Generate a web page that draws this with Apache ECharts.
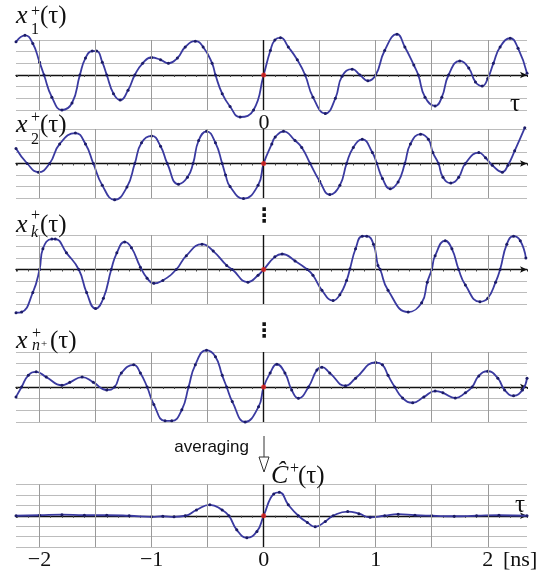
<!DOCTYPE html>
<html>
<head>
<meta charset="utf-8">
<script src="https://cdn.jsdelivr.net/npm/echarts@6/dist/echarts.min.js"></script>
<style>
html,body{margin:0;padding:0;background:#fff;}
#c{width:550px;height:571px;}
</style>
</head>
<body>
<div id="c"></div>
<script>
// ---- data (tau in ns, amplitude in grid units) ----
const x1Points = [[-2.21,2.85],[-2.13,3.4],[-2.06,2.7],[-2.0,1.1],[-1.96,0],[-1.89,-1.9],[-1.80,-3.0],[-1.71,-2.4],[-1.64,0],[-1.59,1.45],[-1.53,2.05],[-1.49,2.05],[-1.44,1.1],[-1.40,0],[-1.34,-1.6],[-1.28,-2.15],[-1.21,-1.3],[-1.15,0],[-1.08,1.0],[-1.0,1.5],[-0.92,1.3],[-0.85,1.0],[-0.77,1.45],[-0.70,2.4],[-0.61,2.9],[-0.54,2.4],[-0.46,1.0],[-0.43,0],[-0.37,-1.6],[-0.30,-2.7],[-0.21,-3.6],[-0.09,-3.0],[0,0],[0.06,2.1],[0.10,3.0],[0.15,3.2],[0.22,2.4],[0.30,1.3],[0.37,0],[0.44,-1.9],[0.55,-3.3],[0.64,-2.0],[0.70,-0.1],[0.79,0.5],[0.86,0],[0.93,-0.5],[1.0,0],[1.08,2.1],[1.19,3.5],[1.26,2.4],[1.34,0.85],[1.38,0],[1.44,-1.9],[1.53,-2.65],[1.59,-1.9],[1.65,0],[1.75,1.2],[1.83,0.6],[1.89,-0.6],[1.95,-0.95],[2.00,-0.3],[2.05,1.0],[2.11,2.4],[2.20,3.15],[2.27,2.3],[2.35,0.15]];
const x2Points = [[-2.21,1.3],[-2.11,0],[-2.01,-0.75],[-1.91,0],[-1.82,1.7],[-1.68,2.65],[-1.59,1.7],[-1.52,0],[-1.44,-1.9],[-1.33,-3.15],[-1.22,-2.05],[-1.15,0],[-1.09,1.8],[-1.0,2.4],[-0.92,1.5],[-0.86,0],[-0.76,-1.8],[-0.68,-1.2],[-0.63,0],[-0.58,2.0],[-0.51,2.8],[-0.43,1.8],[-0.37,0],[-0.34,-1.0],[-0.30,-2.0],[-0.18,-3.05],[-0.05,-1.9],[0,0],[0.073,1.7],[0.103,2.3],[0.177,2.8],[0.28,2.0],[0.34,1.4],[0.415,0],[0.50,-1.55],[0.59,-2.7],[0.68,-1.9],[0.74,0],[0.80,1.4],[0.88,2.1],[0.97,0.95],[1.01,0],[1.06,-1.3],[1.13,-2.2],[1.20,-1.6],[1.26,0],[1.31,1.7],[1.40,2.55],[1.47,2.1],[1.51,0.95],[1.56,0],[1.60,-1.2],[1.67,-1.7],[1.74,-1.2],[1.80,0],[1.92,0.95],[1.98,0.5],[2.04,-0.15],[2.13,-0.75],[2.18,-0.15],[2.24,1.1],[2.33,3.1]];
const xkPoints = [[-2.21,-3.75],[-2.16,-3.7],[-2.06,-2.0],[-2.0,0],[-1.97,1.8],[-1.89,2.65],[-1.86,2.65],[-1.76,1.45],[-1.65,0],[-1.58,-2.0],[-1.50,-3.4],[-1.43,-2.5],[-1.36,0],[-1.31,1.45],[-1.24,2.4],[-1.18,1.9],[-1.10,0.2],[-1.04,-0.75],[-0.98,-1.2],[-0.90,-0.95],[-0.78,0],[-0.69,1.2],[-0.55,2.2],[-0.45,1.6],[-0.33,0.35],[-0.28,0],[-0.14,-1.1],[-0.05,-0.5],[0,0],[0.10,1.1],[0.165,1.35],[0.28,0.75],[0.39,0],[0.44,-0.5],[0.52,-1.8],[0.62,-2.7],[0.68,-2.2],[0.74,-0.95],[0.77,0.05],[0.82,1.8],[0.88,2.9],[0.92,2.9],[0.98,2.2],[1.02,0.35],[1.04,0],[1.11,-1.8],[1.29,-3.7],[1.41,-2.9],[1.46,-1.1],[1.50,0],[1.53,1.2],[1.62,2.5],[1.68,1.8],[1.74,0],[1.80,-1.35],[1.93,-2.8],[2.00,-2.5],[2.07,-1.1],[2.11,0],[2.17,2.2],[2.23,2.9],[2.29,2.5],[2.34,1.0]];
const xnPoints = [[-2.21,-0.85],[-2.16,0],[-2.10,1.0],[-2.03,1.3],[-1.94,0.85],[-1.80,0.15],[-1.73,0.4],[-1.62,0.85],[-1.52,0.4],[-1.40,-0.25],[-1.33,0],[-1.27,1.2],[-1.16,1.9],[-1.10,1.2],[-1.04,0],[-0.98,-1.5],[-0.88,-2.9],[-0.82,-2.9],[-0.73,-1.95],[-0.67,0],[-0.61,1.9],[-0.51,3.15],[-0.43,2.6],[-0.37,1.0],[-0.33,0],[-0.28,-1.25],[-0.165,-3.0],[-0.046,-1.7],[0,0],[0.058,1.2],[0.118,1.95],[0.19,1.2],[0.25,-0.25],[0.31,-0.97],[0.40,0],[0.475,1.45],[0.52,1.7],[0.59,1.2],[0.73,0.1],[0.82,0.75],[1.0,2.1],[1.06,1.9],[1.11,1.0],[1.17,0],[1.24,-0.95],[1.33,-1.35],[1.43,-0.85],[1.53,-0.35],[1.60,-0.5],[1.71,-0.95],[1.80,-0.5],[1.86,0],[1.92,0.95],[2.00,1.35],[2.09,0.75],[2.15,-0.25],[2.23,-0.75],[2.31,-0.25],[2.35,0.75]];
const cPoints = [[-2.21,0],[-2.0,0.05],[-1.8,0.1],[-1.6,0.05],[-1.4,0.05],[-1.2,0],[-1.0,-0.1],[-0.9,-0.05],[-0.8,-0.1],[-0.7,0],[-0.6,0.55],[-0.48,1.05],[-0.37,0.55],[-0.31,0],[-0.24,-1.35],[-0.15,-2.1],[-0.06,-1.5],[0,0],[0.09,2.1],[0.14,2.25],[0.22,1.05],[0.31,0],[0.39,-0.65],[0.46,-1.05],[0.55,-0.55],[0.62,0],[0.75,0.4],[0.85,0.2],[0.95,-0.15],[1.08,0],[1.2,0.15],[1.35,0.05],[1.5,0],[1.7,-0.05],[1.9,0],[2.1,0.05],[2.35,0]];
const originPoint = [[0, 0]];
const gridTicks = [-2, -1.5, -1, -0.5, 0, 0.5, 1, 1.5, 2];
const tauMin = -2.21, tauMax = 2.35;

// ---- layout ----
const series_data = [x1Points, x2Points, xkPoints, xnPoints, cPoints];
const layout = [
  {top: 40, height: 70},
  {top: 129, height: 69},
  {top: 235, height: 69},
  {top: 352, height: 70},
  {top: 484.5, height: 63}
];

const SERIF = '"Liberation Serif","Times New Roman",serif';
const grids = [], xAxes = [], yAxes = [], series = [];
layout.forEach((l, i) => {
  grids.push({left: 16, right: 23, top: l.top, height: l.height});
  xAxes.push({
    type: 'value', gridIndex: i, min: tauMin, max: tauMax, splitNumber: 9,
    axisLine: {show: true, onZero: true, symbol: ['none', 'arrow'], symbolSize: [5, 7],
      lineStyle: {color: '#111', width: 1.4}},
    axisTick: {show: true, length: 2, lineStyle: {color: '#222'}},
    minorTick: {show: true, splitNumber: 5, length: 2, lineStyle: {color: '#444'}},
    axisLabel: {show: false},
    splitLine: {show: false}
  });
  yAxes.push({
    type: 'value', gridIndex: i, min: -3, max: 3, interval: 1,
    axisLine: {show: false}, axisTick: {show: false}, axisLabel: {show: false},
    splitLine: {show: true, lineStyle: {color: '#bcbcbc', width: 1}}
  });
  series.push({
    type: 'line', xAxisIndex: i, yAxisIndex: i, data: series_data[i],
    smooth: 0.5, clip: false, symbol: 'circle', symbolSize: 3, showSymbol: true,
    lineStyle: {color: '#3a3aa0', width: 1.8},
    itemStyle: {color: '#1c1c66'},
    z: 3,
    markLine: {
      silent: true, symbol: ['none', 'none'], animation: false,
      label: {show: false},
      lineStyle: {color: '#9a9a9a', width: 1, type: 'solid'},
      data: gridTicks.map(v => v === 0
        ? {xAxis: v, lineStyle: {color: '#111', width: 1.4, type: 'solid'}}
        : {xAxis: v})
    }
  });
  series.push({
    type: 'scatter', xAxisIndex: i, yAxisIndex: i, data: originPoint,
    symbolSize: 5, itemStyle: {color: '#e8251f'}, z: 5
  });
});
// bottom tick-label axis
xAxes.push({
  type: 'value', gridIndex: 4, position: 'bottom', min: tauMin, max: tauMax, splitNumber: 5,
  axisLine: {show: false, onZero: false}, axisTick: {show: false}, splitLine: {show: false},
  axisLabel: {
    show: true, interval: 0, margin: 2, fontFamily: SERIF, fontSize: 22, color: '#111',
    showMinLabel: false, showMaxLabel: false,
    formatter: v => (Math.abs(v - Math.round(v)) > 1e-6) ? '' : (v < 0 ? '\u2212' + Math.abs(v) : String(v))
  }
});

function txt(x, y, text, font, align) {
  return {type: 'text', x: x, y: y, silent: true, z: 10,
    style: {text: text, font: font, fill: '#111', textAlign: align || 'left', align: align || 'left',
      textVerticalAlign: 'middle', verticalAlign: 'middle'}};
}
const fMain = 'italic 26px ' + SERIF;
const fRoman = '25px ' + SERIF;
const fSmall = '16px ' + SERIF;
const fSmallIt = 'italic 16px ' + SERIF;

const graphic = [
  // panel 1
  txt(16, 16, 'x', fMain), txt(31, 12, '+', fSmall), txt(31, 30, '1', fSmall), txt(40, 16, '(τ)', fRoman),
  txt(515, 104, 'τ', fRoman, 'center'),
  txt(264, 123, '0', '22px ' + SERIF, 'center'),
  // panel 2
  txt(16, 125, 'x', fMain), txt(31, 118, '+', fSmall), txt(31, 140, '2', fSmall), txt(40, 125, '(τ)', fRoman),
  txt(264, 217, '\u22EE', 'bold 20px "DejaVu Sans"', 'center'),
  // panel 3
  txt(16, 225, 'x', fMain), txt(31, 216, '+', fSmall), txt(31, 233, 'k', fSmallIt), txt(40, 225, '(τ)', fRoman),
  txt(264, 332, '\u22EE', 'bold 20px "DejaVu Sans"', 'center'),
  // panel 4
  txt(16, 341, 'x', fMain), txt(32, 334, '+', fSmall), txt(32, 346, 'n', fSmallIt), txt(41, 344, '+', '11px ' + SERIF), txt(50, 341, '(τ)', fRoman),
  // averaging arrow
  txt(249, 447, 'averaging', '17px "Liberation Sans",Arial,sans-serif', 'right'),
  {type: 'line', silent: true, shape: {x1: 264, y1: 436, x2: 264, y2: 457}, style: {stroke: '#333', lineWidth: 1}},
  {type: 'polygon', silent: true, shape: {points: [[259, 457], [269, 457], [264, 472]]}, style: {stroke: '#333', fill: '#fff', lineWidth: 1}},
  // panel 5
  txt(271, 476, '\u0108', fMain), txt(290, 469, '+', fSmall), txt(298, 476, '(τ)', fRoman),
  txt(520, 505, 'τ', fRoman, 'center'),
  txt(503, 560, '[ns]', '22px ' + SERIF)
];

const chart = echarts.init(document.getElementById('c'), null, {renderer: 'canvas'});
chart.setOption({
  animation: false,
  backgroundColor: '#fff',
  grid: grids,
  xAxis: xAxes,
  yAxis: yAxes,
  series: series,
  graphic: graphic
});
</script>
</body>
</html>
